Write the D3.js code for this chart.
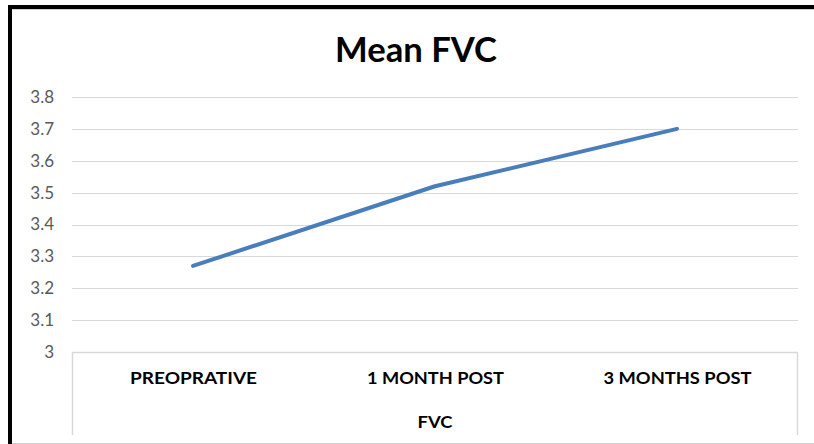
<!DOCTYPE html>
<html><head><meta charset="utf-8">
<script src="https://cdn.jsdelivr.net/npm/d3@7"></script>
<style>body{margin:0;background:#fff}svg{display:block}</style>
</head><body>
<svg id="c" width="814" height="444"></svg>
<script>
const categories = ["PREOPRATIVE", "1 MONTH POST", "3 MONTHS POST"];
const values = [3.27, 3.52, 3.70];
const yTicks = [3, 3.1, 3.2, 3.3, 3.4, 3.5, 3.6, 3.7, 3.8];
const title = "Mean FVC";
const axisTitle = "FVC";

const svg = d3.select("#c");
const font = "Lato, 'Open Sans', sans-serif";
const L = 72, R = 798, T = 97, B = 352;

// outer frame
svg.append("rect").attr("x", 8).attr("y", 5).attr("width", 820).attr("height", 4).attr("fill", "#000");
svg.append("rect").attr("x", 8).attr("y", 5).attr("width", 4).attr("height", 440).attr("fill", "#000");
svg.append("line").attr("x1", 12).attr("x2", 814).attr("y1", 9.5).attr("y2", 9.5).attr("stroke", "#d0d0d0");
svg.append("line").attr("x1", 12).attr("x2", 814).attr("y1", 443.5).attr("y2", 443.5).attr("stroke", "#d0d0d0");

const x = d3.scalePoint().domain(categories).range([L, R]).padding(0.5);
const y = d3.scaleLinear().domain([3, 3.8]).range([B, T]);

// gridlines
svg.append("g").selectAll("line").data(yTicks.filter(d => d > 3)).join("line")
  .attr("x1", L).attr("x2", R)
  .attr("y1", d => Math.round(y(d)) + 0.5).attr("y2", d => Math.round(y(d)) + 0.5)
  .attr("stroke", "#d9d9d9").attr("stroke-width", 1);

// y axis labels
const yAxis = d3.axisLeft(y).tickValues(yTicks).tickFormat(d => d3.format("")(+d.toFixed(1))).tickSize(0).tickPadding(0);
const gy = svg.append("g").attr("transform", `translate(54,0)`).call(yAxis);
gy.select(".domain").remove();
gy.selectAll("text").attr("font-family", font).attr("font-size", 17).attr("fill", "#595959");

// category axis box
const boxB = 435;
svg.append("line").attr("x1", L).attr("x2", R).attr("y1", B + 0.5).attr("y2", B + 0.5).attr("stroke", "#d9d9d9").attr("stroke-width", 1.5);
svg.append("line").attr("x1", L + 0.5).attr("x2", L + 0.5).attr("y1", B).attr("y2", boxB).attr("stroke", "#d9d9d9").attr("stroke-width", 1.5);
svg.append("line").attr("x1", R - 0.5).attr("x2", R - 0.5).attr("y1", B).attr("y2", boxB).attr("stroke", "#d9d9d9").attr("stroke-width", 1.5);

const labelWidths = {"PREOPRATIVE": 127, "1 MONTH POST": 137, "3 MONTHS POST": 148};
const xAxis = d3.axisBottom(x).tickSize(0).tickPadding(0);
const gx = svg.append("g").attr("transform", `translate(0,${B + 20})`).call(xAxis);
gx.select(".domain").remove();
gx.selectAll("text").attr("font-family", font).attr("font-size", 17).attr("font-weight", "bold").attr("fill", "#000")
  .attr("textLength", d => labelWidths[d]).attr("lengthAdjust", "spacingAndGlyphs");

svg.append("text").attr("x", 435).attr("y", 428).attr("text-anchor", "middle")
  .attr("font-family", font).attr("font-size", 17).attr("font-weight", "bold").attr("fill", "#000")
  .attr("textLength", 35).attr("lengthAdjust", "spacingAndGlyphs").text(axisTitle);

// title
svg.append("text").attr("x", 416).attr("y", 62).attr("text-anchor", "middle")
  .attr("font-family", font).attr("font-size", 35).attr("font-weight", "bold").attr("fill", "#000")
  .attr("textLength", 162).attr("lengthAdjust", "spacingAndGlyphs").text(title);

// line
const line = d3.line().x((d, i) => x(categories[i])).y(d => y(d));
svg.append("path").datum(values).attr("d", line).attr("fill", "none")
  .attr("stroke", "#4a7ebb").attr("stroke-width", 4).attr("stroke-linecap", "round").attr("stroke-linejoin", "round");
</script>
</body></html>
